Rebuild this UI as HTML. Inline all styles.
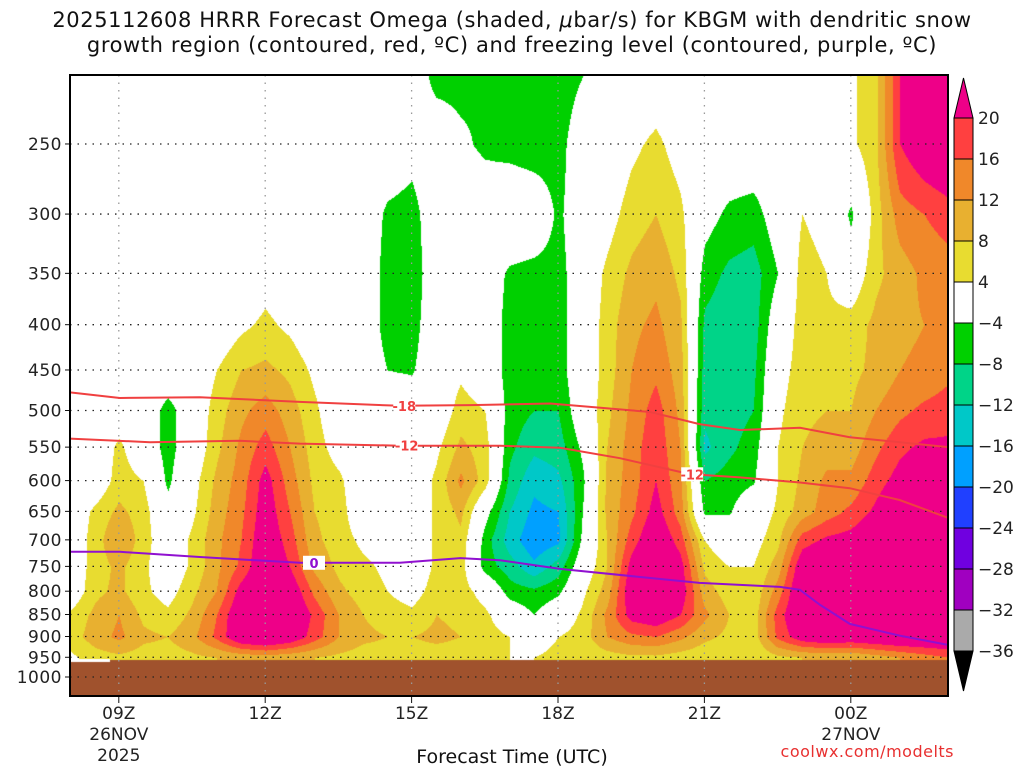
<!DOCTYPE html>
<html><head><meta charset="utf-8">
<style>
html,body{margin:0;padding:0;background:#fff;}
body{width:1024px;height:768px;position:relative;overflow:hidden;font-family:"DejaVu Sans","Liberation Sans",sans-serif;}
.t{position:absolute;white-space:nowrap;color:#111;}
</style></head>
<body>
<div class="t" style="left:0;width:1024px;text-align:center;top:8px;font-size:21px;letter-spacing:0.6px;">2025112608 HRRR Forecast Omega (shaded, <i>μ</i>bar/s) for KBGM with dendritic snow</div>
<div class="t" style="left:0;width:1024px;text-align:center;top:33px;font-size:21px;letter-spacing:0.6px;">growth region (contoured, red, ºC) and freezing level (contoured, purple, ºC)</div>
<canvas id="plot" width="878" height="621" style="position:absolute;left:70px;top:75px;"></canvas>
<svg id="ov" width="1024" height="768" style="position:absolute;left:0;top:0;"></svg>
<div class="t" style="left:0;width:1024px;text-align:center;top:746px;font-size:19px;">Forecast Time (UTC)</div>
<div class="t" style="right:70px;top:742px;font-size:16px;color:#e83030;letter-spacing:0.5px;">coolwx.com/modelts</div>
<script>
const hours=[];for(let i=0;i<37;i++)hours.push(8+i*0.5);
const levels=[200,250,300,350,400,450,500,550,600,650,700,750,800,850,900,950];
const omega=[
[0,0,0,0,0,0,0,0,0,0,0,0,0,5,6,3],
[0,0,0,0,0,0,0,0,0,5,6,6,7,9,10,6],
[0,0,0,0,0,0,1,5,6,9,12,9,9,12,13,7],
[0,0,0,0,0,0,0,0,4,6,6,5,5,7,9,6],
[0,0,0,0,0,0,-6,-6,-5,-2,0,0,2,5,8,6],
[0,0,0,0,0,0,0,0,2,3,5,5,7,9,11,7],
[0,0,0,0,0,4,6,7,9,10,11,11,12,16,17,8],
[0,0,0,0,3,8,11,13,14,15,16,17,22,25,25,9],
[0,0,0,2,5,9,14,18,22,23,24,25,26,27,27,10],
[0,0,0,0,3,7,10,12,14,16,18,20,24,26,24,9],
[0,0,0,0,0,3,5,6,7,8,9,11,15,19,18,8],
[0,0,0,0,0,0,0,2,5,6,6,7,9,12,12,7],
[0,0,0,0,0,0,0,0,0,0,3,5,6,8,9,6],
[0,0,-5,-6,-6,-4,0,0,0,1,2,3,4,6,8,6],
[0,-2,-6,-7,-6,-4.5,0,0,0,0,0,0,2,5,8,6],
[-7,0,0,0,0,0,0,3,5,5,5,5,6,8,9,6],
[-6,-3,0,0,0,3,6,9,13,9,7,6,6,7,8,6],
[-4,-5,0,0,0,0,4,6,6,-2,-6,-6,2,5,6,5],
[-6,-6,2,-5,-6,-6,-6,-7,-9,-12,-14,-10,-6,0,4,4],
[-7,-7,1,-6,-6,-7,-8,-11,-15,-17,-19,-15,-7,-4,2,4],
[-7,-6,-5,-6,-6,-6,-8,-10,-13,-16,-17,-10,-5,0,4,5],
[-5,0,0,0,0,0,0,-3,-5,-4,-3,0,3,5,6,5],
[0,0,2,5,6,6,7,8,9,9,8,8,10,13,12,6],
[0,3,6,9,11,12,13,14,14,15,18,22,24,22,15,7],
[0,5,8,11,13,15,18,19,20,22,25,27,27,24,16,7],
[0,2,5,7,9,10,11,12,13,14,18,22,23,20,13,6],
[0,0,-2,-6,-9,-10,-11,-13,-8,-5,4,7,10,13,9,5],
[0,0,-5,-9,-11,-11,-10,-9,-6,-4.5,0,4,6,8,7,5],
[0,0,-6,-10,-10,-9,-8,-6,-4.5,0,2,4,5,6,6,4],
[0,0,-1,-4,0,2,3,4,4,5,7,10,14,18,17,7],
[0,0,4,6,6,6,7,8,9,10,18,24,26,26,23,8],
[0,0,2,4,5,6,8,10,13,14,21,27,27,27,25,8],
[3,3,-5,0,6,7,8,10,13,17,22,27,27,27,24,8],
[7,7,6,7,9,9,12,15,18,21,25,27,27,27,25,10],
[20,20,14,10,11,12,15,19,22,26,27,27,27,27,26,12],
[26,24,16,13,12,13,17,21,25,27,27,27,27,27,26,14],
[27,26,18,14,13,15,18,21,24,27,27,27,27,27,26,16]];
const m18Hours=[8,9.02,10.66,12.71,14.76,16.2,17.84,19.89,20.9,21.73,22.96,23.98,25.99];
const m18P=[477,484,483,489,494,493,491,502,518,526,523,536,550];
const m12Hours=[8,9.64,11.48,12.71,14.76,16.81,18.04,19.27,20.7,21.73,22.96,23.98,25.0,25.99];
const m12P=[538,543,541,545,548,548,551,566,590,595,603,612,631,661];
const zeroHours=[8,9.02,10.66,12.71,14.76,16.0,16.81,18.04,19.89,20.9,22.55,22.96,23.37,23.98,25.0,25.99];
const zeroP=[722,722,732,743,743,734,738,755,773,783,791,797,829,871,898,920];
const yTicks=[250,300,350,400,450,500,550,600,650,700,750,800,850,900,950,1000];
const xTickHours=[9,12,15,18,21,24];
const xTickLabels=[["09Z","26NOV","2025"],["12Z"],["15Z"],["18Z"],["21Z"],["00Z","27NOV"]];
const cbLabels=["20","16","12","8","4","−4","−8","−12","−16","−20","−24","−28","−32","−36"];
const cbColors=["#ff4040","#f0882a","#e8b030","#e8dc30","#ffffff","#00d000","#00d488","#00c8c8","#00a0ff","#2040ff","#7000e0","#a000c0","#aaaaaa"];

const X0=70,X1=948,Y0=75,Y1=696;
const FF="DejaVu Sans, Liberation Sans, sans-serif";
function xOf(h){return X0+(h-8)*48.8;}
function yOf(p){return 677-384.5*Math.log(1000/p);}
function pOf(y){return 1000*Math.exp(-(677-y)/384.5);}
function col(v){
 if(v>=20)return[238,0,136];if(v>=16)return[255,64,64];if(v>=12)return[240,136,42];
 if(v>=8)return[232,176,48];if(v>=4)return[232,220,48];if(v>-4)return[255,255,255];
 if(v>-8)return[0,208,0];if(v>-12)return[0,212,136];if(v>-16)return[0,200,200];
 if(v>-20)return[0,160,255];if(v>-24)return[32,64,255];return[112,0,224];}
const cv=document.getElementById('plot'),cx=cv.getContext('2d');
const W=878,H=621,img=cx.createImageData(W,H);
for(let py=0;py<H;py++){
 const p=pOf(Y0+py);let fr=(p-levels[0])/50;fr=Math.max(0,Math.min(levels.length-1.001,fr));
 const r0=Math.floor(fr),tr=fr-r0;
 for(let px=0;px<W;px++){
  const h=8+px/48.8;let fc=(h-hours[0])/0.5;fc=Math.max(0,Math.min(hours.length-1.001,fc));
  const c0=Math.floor(fc),tc=fc-c0;
  const v=(omega[c0][r0]*(1-tc)+omega[c0+1][r0]*tc)*(1-tr)+(omega[c0][r0+1]*(1-tc)+omega[c0+1][r0+1]*tc)*tr;
  const c=col(v),k=(py*W+px)*4;img.data[k]=c[0];img.data[k+1]=c[1];img.data[k+2]=c[2];img.data[k+3]=255;}}
cx.putImageData(img,0,0);
cx.fillStyle="#a0522d";cx.fillRect(0,660-Y0,W,H);
cx.fillStyle="#fff";cx.fillRect(0,659-Y0,40,3);
const NS="http://www.w3.org/2000/svg",ov=document.getElementById('ov');
function mk(t,a,parent){const e=document.createElementNS(NS,t);for(const k in a)e.setAttribute(k,a[k]);(parent||ov).appendChild(e);return e;}
yTicks.forEach(p=>{const y=yOf(p);
 const g=mk('line',{x1:X0,x2:X1,y1:y,y2:y,stroke:'#222','stroke-width':1.3,'stroke-dasharray':'1.5 6'});
 
 
 mk('line',{x1:X0-5,x2:X0,y1:y,y2:y,stroke:'#111'});
 const t=mk('text',{x:X0-8,y:y+6,'text-anchor':'end','font-size':17,fill:'#222','font-family':FF,'letter-spacing':'0.5'});t.textContent=p;
 
 });
xTickHours.forEach((h,i)=>{const x=xOf(h);
 const g=mk('line',{x1:x,x2:x,y1:Y0,y2:Y1,stroke:'#999','stroke-width':1.3,'stroke-dasharray':'1.5 6'});
 
 
 mk('line',{x1:x,x2:x,y1:Y1,y2:Y1+7,stroke:'#111'});
 xTickLabels[i].forEach((s,j)=>{const t=mk('text',{x:x,y:719+j*21,'text-anchor':'middle','font-size':17,fill:'#222','font-family':FF});t.textContent=s;
  
  });});
function line(hs,ps,color,name){const d=hs.map((h,i)=>(i?'L':'M')+xOf(h).toFixed(1)+','+yOf(ps[i]).toFixed(1)).join('');
 const e=mk('path',{d:d,fill:'none',stroke:color,'stroke-width':2});
 
 }
line(m18Hours,m18P,'#f04040','isotherm-minus18');
line(m12Hours,m12P,'#f04040','isotherm-minus12');
line(zeroHours,zeroP,'#9010d0','freezing-level-line');
function lab(h,hs,ps,txt,color){let p=ps[0];for(let i=0;i<hs.length-1;i++)if(h>=hs[i]&&h<=hs[i+1])p=ps[i]+(ps[i+1]-ps[i])*(h-hs[i])/(hs[i+1]-hs[i]);
 const x=xOf(h),y=yOf(p);mk('rect',{x:x-11,y:y-7,width:22,height:14,fill:'#fff'});
 const t=mk('text',{x:x,y:y+5,'text-anchor':'middle','font-size':13,'font-weight':'bold',fill:color,'font-family':FF});t.textContent=txt;
 
 }
lab(14.85,m18Hours,m18P,'-18','#f04040');lab(14.9,m12Hours,m12P,'-12','#f04040');lab(20.75,m12Hours,m12P,'-12','#f04040');lab(13.0,zeroHours,zeroP,'0','#9010d0');
const fr=mk('rect',{x:X0,y:Y0,width:X1-X0,height:Y1-Y0,fill:'none',stroke:'#000','stroke-width':2});


const CX=954,CW=19,CT=118,CS=41;
const up=mk('polygon',{points:`${CX},${CT} ${CX+CW},${CT} ${CX+CW/2},${CT-40}`,fill:'#ee0088',stroke:'#000'});


cbColors.forEach((c,i)=>{const r=mk('rect',{x:CX,y:CT+i*CS,width:CW,height:CS,fill:c,stroke:'#000'});
 
 });
const bot=CT+cbColors.length*CS;
const dn=mk('polygon',{points:`${CX},${bot} ${CX+CW},${bot} ${CX+CW/2},${bot+40}`,fill:'#000',stroke:'#000'});


cbLabels.forEach((s,i)=>{const t=mk('text',{x:CX+CW+5,y:CT+i*CS+6,'font-size':17,fill:'#222','font-family':FF});t.textContent=s;
 
 });
</script>
</body></html>
